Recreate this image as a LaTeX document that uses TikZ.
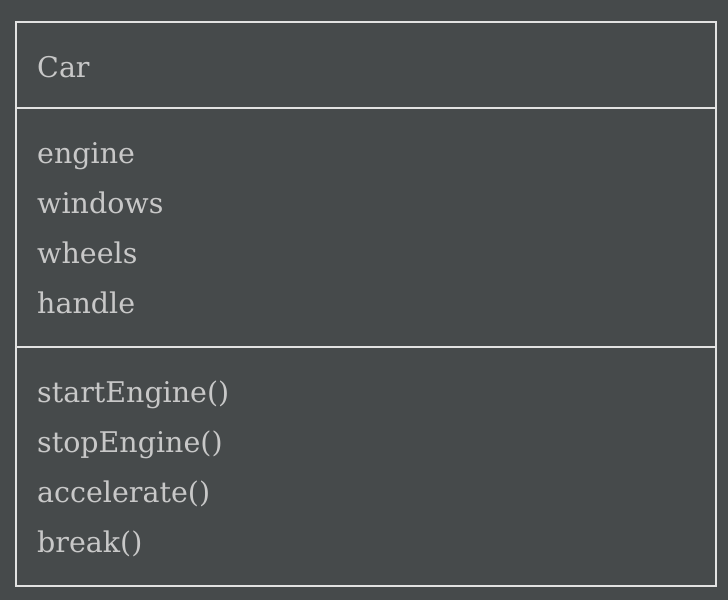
\documentclass[tikz,border=0pt]{standalone}
\usepackage{fontspec}
\setmainfont{DejaVu Serif}
\definecolor{bgc}{RGB}{70,74,75}
\definecolor{linec}{RGB}{226,226,226}
\definecolor{txtc}{RGB}{200,200,200}
\begin{document}
\begin{tikzpicture}[x=1pt,y=-1pt,
  lbl/.style={anchor=base west,inner sep=0pt,text=txtc,font=\fontsize{28.5}{34}\selectfont},
  frame/.style={draw=linec,line width=2pt}]
\fill[bgc] (0,0) rectangle (728,600);
\useasboundingbox (0,0) rectangle (728,600);
\node[draw=linec,line width=2pt,minimum width=700pt,minimum height=564pt,inner sep=0pt,anchor=north west] (box) at (15,21) {};
\coordinate (s1l) at (15,108); \coordinate (s1r) at (715,108);
\coordinate (s2l) at (15,347); \coordinate (s2r) at (715,347);
\draw[frame] (s1l) -- (s1r);
\draw[frame] (s2l) -- (s2r);
\node[lbl] (name) at (37,77) {Car};
\node[lbl] (a1) at (37,163) {engine};
\node[lbl] (a2) at (37,213) {windows};
\node[lbl] (a3) at (37,263) {wheels};
\node[lbl] (a4) at (37,313) {handle};
\node[lbl] (m1) at (37,402) {startEngine()};
\node[lbl] (m2) at (37,452) {stopEngine()};
\node[lbl] (m3) at (37,502) {accelerate()};
\node[lbl] (m4) at (37,552) {break()};
\end{tikzpicture}
\end{document}
